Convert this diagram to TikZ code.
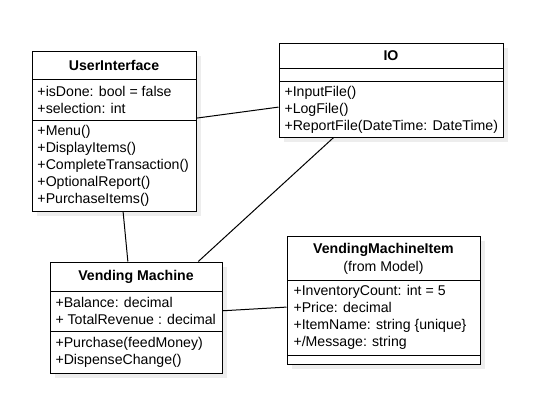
\documentclass[tikz,border=0pt]{standalone}
\usepackage{fontspec}
\setmainfont{Liberation Sans}
\usetikzlibrary{positioning, calc, fit, shadows}

\begin{document}
\begin{tikzpicture}[x=0.75pt, y=-0.75pt, line width=0.75pt,
    font=\fontsize{10.6pt}{12.7pt}\selectfont,
    classbox/.style={draw, fill=white, inner sep=0pt,
      drop shadow={shadow xshift=3.5pt, shadow yshift=-3.5pt, fill=black!7, opacity=1}},
    member/.style={anchor=west, align=left, inner sep=0pt},
    title/.style={align=center, inner sep=0pt}]
  \useasboundingbox (0,0) rectangle (547,419);

  % UserInterface
  \node[classbox, fit={(32,51) (196,211)}] (ui) {};
  \draw (32,79) -- (196,79) (32,120) -- (196,120);
  \node[title, font=\fontsize{10.6pt}{12.7pt}\selectfont\bfseries] (uiname) at (114,65) {UserInterface};
  \node[member] (uiattr) at (37,100) {+isDone: bool = false\\+selection: int};
  \node[member] (uiops) at (37,165.5) {+Menu()\\+DisplayItems()\\+CompleteTransaction()\\+OptionalReport()\\+PurchaseItems()};

  % IO
  \node[classbox, fit={(279,43) (503,137)}] (io) {};
  \draw (279,68) -- (503,68) (279,81) -- (503,81);
  \node[title, font=\fontsize{10.6pt}{12.7pt}\selectfont\bfseries] (ioname) at (391,55.5) {IO};
  \node[member] (ioops) at (284,110) {+InputFile()\\+LogFile()\\+ReportFile(DateTime: DateTime)};

  % Vending Machine
  \node[classbox, fit={(50,262) (222,373)}] (vm) {};
  \draw (50,291) -- (222,291) (50,331) -- (222,331);
  \node[title, font=\fontsize{10.6pt}{12.7pt}\selectfont\bfseries] (vmname) at (136,276.5) {Vending Machine};
  \node[member] (vmattr) at (55,311) {+Balance: decimal\\+ TotalRevenue : decimal};
  \node[member] (vmops) at (55,352.5) {+Purchase(feedMoney)\\+DispenseChange()};

  % VendingMachineItem
  \node[classbox, fit={(287,236) (480,364)}] (item) {};
  \draw (287,280) -- (480,280) (287,355) -- (480,355);
  \node[title, font=\fontsize{10.6pt}{13.5pt}\selectfont] (itemname) at (383.5,259) {\textbf{VendingMachineItem}\\(from Model)};
  \node[member] (itemattr) at (293,317.5) {+InventoryCount: int = 5\\+Price: decimal\\+ItemName: string \{unique\}\\+/Message: string};

  % associations
  \draw ($(ui.north east)!0.42!(ui.south east)$) -- ($(io.north west)!0.68!(io.south west)$);
  \draw ($(ui.south west)!0.555!(ui.south east)$) -- ($(vm.north west)!0.453!(vm.north east)$);
  \draw ($(io.south west)!0.245!(io.south east)$) -- ($(vm.north west)!0.86!(vm.north east)$);
  \draw ($(vm.north east)!0.44!(vm.south east)$) -- ($(item.north west)!0.555!(item.south west)$);
\end{tikzpicture}
\end{document}
